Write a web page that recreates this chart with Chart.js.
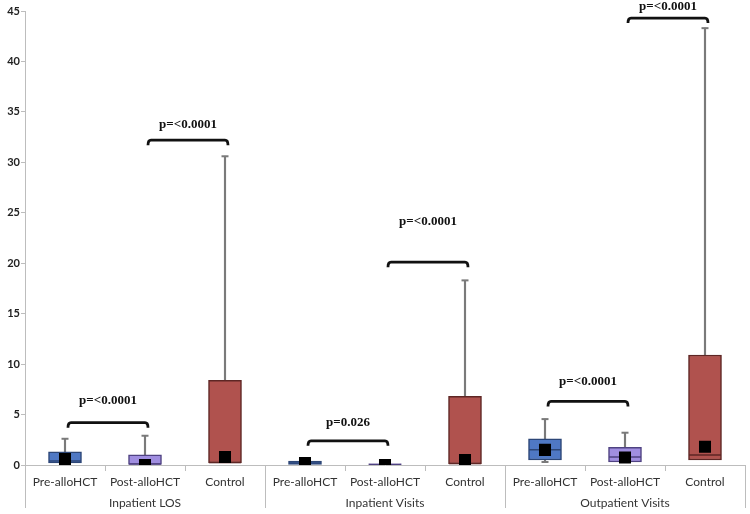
<!DOCTYPE html>
<html>
<head>
<meta charset="utf-8">
<script src="https://cdn.jsdelivr.net/npm/chart.js@4/dist/chart.umd.min.js"></script>
<style>
  html, body { margin: 0; padding: 0; background: #fff; }
  #wrap { width: 750px; height: 514px; }
</style>
</head>
<body>
<div id="wrap"><canvas id="c" width="750" height="514"></canvas></div>
<script>
// categories and groups
const categories = ["Pre-alloHCT", "Post-alloHCT", "Control", "Pre-alloHCT", "Post-alloHCT", "Control", "Pre-alloHCT", "Post-alloHCT", "Control"];
const groups = ["Inpatient LOS", "Inpatient Visits", "Outpatient Visits"];

// box plot values
const q1Vals     = [0.2, 0.0, 0.2, 0.0, 0.0, 0.1, 0.5, 0.3, 0.5];
const q3Vals     = [1.3, 1.0, 8.4, 0.4, 0.12, 6.8, 2.6, 1.75, 10.9];
const medianVals = [0.4, 0.1, 0.25, 0.2, 0.05, 0.15, 1.5, 0.8, 1.0];
const meanVals   = [0.6, 0.0, 0.8, 0.2, 0.0, 0.5, 1.5, 0.75, 1.8];
const maxVals    = [2.6, 2.9, 30.6, null, null, 18.3, 4.55, 3.2, 43.3];
const minVals    = [null, null, null, null, null, null, 0.3, null, null];

const yTicks = [0, 5, 10, 15, 20, 25, 30, 35, 40, 45];

// significance brackets
const bracketFrom = [0, 1, 3, 4, 6, 7];
const bracketTo   = [1, 2, 4, 5, 7, 8];
const bracketY    = [4.2, 32.2, 2.4, 20.1, 6.3, 44.3];
const pLabels     = ["p=<0.0001", "p=<0.0001", "p=0.026", "p=<0.0001", "p=<0.0001", "p=<0.0001"];
const pLabelY     = [6.4, 33.7, 4.2, 24.1, 8.3, 45.4];

const fillCols   = ["#4f78c4", "#a08ee0", "#b0524e"];
const borderCols = ["#2c4677", "#4f4282", "#5e2624"];
const boxFill   = categories.map((c, i) => fillCols[i % 3]);
const boxBorder = categories.map((c, i) => borderCols[i % 3]);

const whiskerCol = "#7a7a7a";
const axisCol = "#bdbdbd";

// extra drawing: group separators, group labels, brackets
const extras = {
  id: "extras",
  afterDraw(chart) {
    const ctx = chart.ctx;
    const x = chart.scales.x, y = chart.scales.y;
    const bottom = y.bottom;
    ctx.save();
    // group separators (and left axis running down)
    ctx.strokeStyle = axisCol;
    ctx.lineWidth = 1;
    [0, 3, 6, 9].forEach(i => {
      const px = Math.round(x.getPixelForValue(i - 0.5)) + 0.5;
      ctx.beginPath();
      ctx.moveTo(px, bottom);
      ctx.lineTo(px, 508);
      ctx.stroke();
    });
    // group labels
    ctx.fillStyle = "#333";
    ctx.font = "12px Lato";
    ctx.textAlign = "center";
    ctx.textBaseline = "middle";
    groups.forEach((g, k) => {
      ctx.fillText(g, x.getPixelForValue(k * 3 + 1), 503);
    });
    // brackets
    ctx.strokeStyle = "#111";
    ctx.lineWidth = 2.8;
    ctx.lineJoin = "round";
    ctx.font = "bold 13px 'Liberation Serif'";
    ctx.fillStyle = "#111";
    bracketFrom.forEach((f, k) => {
      const x1 = x.getPixelForValue(f) + 3;
      const x2 = x.getPixelForValue(bracketTo[k]) + 3;
      const py = y.getPixelForValue(bracketY[k]);
      ctx.beginPath();
      ctx.moveTo(x1, py + 5);
      ctx.quadraticCurveTo(x1, py, x1 + 3, py);
      ctx.lineTo(x2 - 3, py);
      ctx.quadraticCurveTo(x2, py, x2, py + 5);
      ctx.stroke();
      ctx.fillText(pLabels[k], (x1 + x2) / 2, y.getPixelForValue(pLabelY[k]));
    });
    ctx.restore();
  }
};

new Chart(document.getElementById("c"), {
  type: "bar",
  data: {
    labels: categories,
    datasets: [
      {
        type: "line",
        label: "Mean",
        data: meanVals,
        showLine: false,
        pointStyle: "rect",
        pointRadius: 8.5,
        pointBackgroundColor: "#000",
        pointBorderWidth: 0,
        order: 0
      },
      {
        type: "line",
        label: "Median",
        data: medianVals,
        showLine: false,
        pointStyle: "line",
        pointRadius: 16,
        pointBorderColor: boxBorder,
        pointBorderWidth: 1.5,
        order: 1
      },
      {
        label: "Box",
        data: q1Vals.map((v, i) => [v, q3Vals[i]]),
        backgroundColor: boxFill,
        borderColor: boxBorder,
        borderWidth: 1.5,
        borderSkipped: false,
        barThickness: 33,
        grouped: false,
        order: 2
      },
      {
        type: "line",
        label: "Caps",
        data: maxVals,
        showLine: false,
        pointStyle: "line",
        pointRadius: 3.5,
        pointBorderColor: whiskerCol,
        pointBorderWidth: 2,
        order: 3
      },
      {
        type: "line",
        label: "Low caps",
        data: minVals,
        showLine: false,
        pointStyle: "line",
        pointRadius: 3.5,
        pointBorderColor: whiskerCol,
        pointBorderWidth: 2,
        order: 3
      },
      {
        label: "Whisker",
        data: maxVals.map((v, i) => v === null ? null : [q3Vals[i], v]),
        backgroundColor: whiskerCol,
        borderWidth: 0,
        barThickness: 1.5,
        grouped: false,
        order: 4
      },
      {
        label: "Low whisker",
        data: minVals.map((v, i) => v === null ? null : [v, q1Vals[i]]),
        backgroundColor: whiskerCol,
        borderWidth: 0,
        barThickness: 1.5,
        grouped: false,
        order: 4
      }
    ]
  },
  options: {
    responsive: false,
    animation: false,
    layout: { autoPadding: false, padding: { top: 11, right: 5, left: 0, bottom: 0 } },
    plugins: {
      legend: { display: false },
      tooltip: { enabled: false }
    },
    scales: {
      x: {
        offset: true,
        grid: {
          offset: true,
          drawOnChartArea: false,
          tickLength: 6,
          color: axisCol
        },
        border: { color: axisCol, width: 1 },
        ticks: {
          color: "#333",
          font: { family: "Lato", size: 12 },
          padding: 4,
          maxRotation: 0,
          autoSkip: false
        },
        afterFit(scale) { scale.height = 49; }
      },
      y: {
        min: 0,
        max: 45,
        afterBuildTicks(scale) { scale.ticks = yTicks.map(v => ({ value: v })); },
        grid: {
          drawOnChartArea: false,
          tickLength: 4,
          color: axisCol
        },
        border: { color: axisCol, width: 1 },
        ticks: {
          color: "#222",
          font: { family: "Lato", size: 11, weight: "bold" },
          padding: 1
        },
        afterFit(scale) { scale.width = 25; }
      }
    }
  },
  plugins: [extras]
});
</script>
</body>
</html>
